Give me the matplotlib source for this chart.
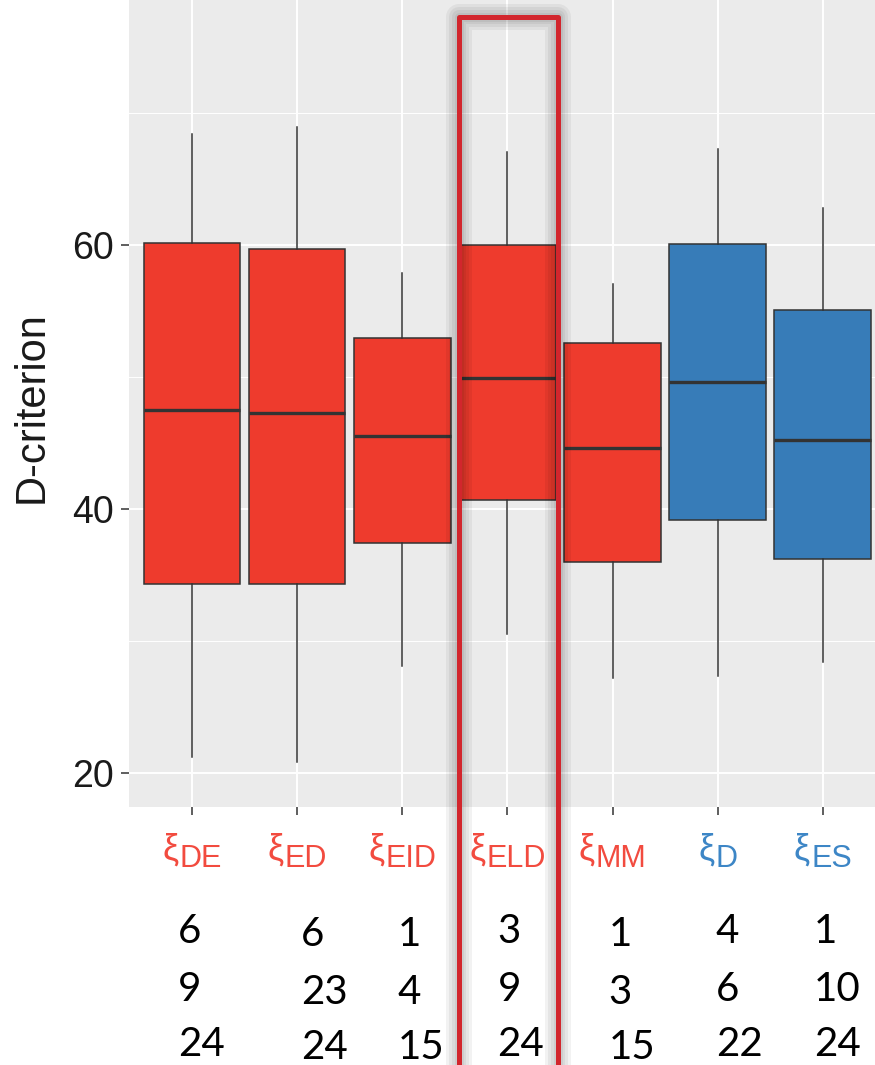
import matplotlib.pyplot as plt
from matplotlib.patches import Rectangle
from matplotlib.transforms import blended_transform_factory

plt.rcParams['font.family'] = ['Liberation Sans', 'DejaVu Sans']

# D-criterion summaries per design method
METHODS = ['DE', 'ED', 'EID', 'ELD', 'MM', 'D', 'ES']
GROUP = ['new', 'new', 'new', 'new', 'new', 'ref', 'ref']
WHIS_LO = [21.2, 20.8, 28.1, 30.5, 27.2, 27.3, 28.4]
Q1 = [34.3, 34.3, 37.4, 40.7, 36.0, 39.2, 36.2]
MEDIAN = [47.5, 47.3, 45.5, 49.9, 44.6, 49.6, 45.2]
Q3 = [60.2, 59.7, 53.0, 60.0, 52.6, 60.1, 55.1]
WHIS_HI = [68.4, 69.0, 57.9, 67.1, 57.1, 67.3, 62.8]
# numbers written under each method
COUNTS = [[6, 9, 24], [6, 23, 24], [1, 4, 15], [3, 9, 24],
          [1, 3, 15], [4, 6, 22], [1, 10, 24]]
HIGHLIGHT = 'ELD'

FILL = {'new': '#EE3B2D', 'ref': '#377CB8'}
LABEL_COLOR = {'new': '#F24B3F', 'ref': '#3D86C6'}
EDGE = '#333333'

W, H = 875, 1065
fig = plt.figure(figsize=(W / 100, H / 100), dpi=100)
ax = fig.add_axes([128.9 / W, 1 - 807 / H, 757 / W, 807 / H])
ax.set_facecolor('#EBEBEB')

positions = list(range(1, len(METHODS) + 1))
stats = [dict(label=m, whislo=lo, q1=a, med=md, q3=b, whishi=hi, fliers=[])
         for m, lo, a, md, b, hi in zip(METHODS, WHIS_LO, Q1, MEDIAN, Q3, WHIS_HI)]
bp = ax.bxp(stats, positions=positions, widths=0.92, patch_artist=True,
            showcaps=False,
            boxprops=dict(edgecolor=EDGE, linewidth=1.1),
            medianprops=dict(color=EDGE, linewidth=2.4, solid_capstyle='butt'),
            whiskerprops=dict(color=EDGE, linewidth=1.1))
for patch, grp in zip(bp['boxes'], GROUP):
    patch.set_facecolor(FILL[grp])

ax.set_xlim(0.4, 7.6)
ax.set_ylim(17.4, 78.6)
ax.set_yticks([20, 40, 60])
ax.set_yticks([30, 50, 70], minor=True)
ax.set_xticks(positions)
ax.set_xticklabels([])
ax.grid(which='major', color='white', linewidth=1.4)
ax.grid(which='minor', axis='y', color='white', linewidth=0.7)
ax.set_axisbelow(True)
for s in ax.spines.values():
    s.set_visible(False)
ax.tick_params(axis='both', length=6, width=1.1, color=EDGE)
ax.tick_params(axis='y', which='minor', length=0)
ax.tick_params(axis='y', labelsize=27, pad=5, labelcolor='#1a1a1a')
ax.tick_params(axis='x', pad=0)

fig.text(32 / W, 1 - 407 / H, 'D-criterion', rotation=90, ha='center',
         va='center', fontsize=30, color='#1a1a1a')

# xi labels with large subscripts
xi_texts = []
for i, (m, grp) in enumerate(zip(METHODS, GROUP)):
    c = LABEL_COLOR[grp]
    t1 = ax.annotate('ξ', xy=(positions[i], 0), xycoords=('data', 'axes fraction'),
                     xytext=(0, -52.5), textcoords='offset pixels',
                     ha='left', va='baseline', fontsize=26, color=c)
    t2 = ax.annotate(m, xy=(positions[i], 0), xycoords=('data', 'axes fraction'),
                     xytext=(0, -60), textcoords='offset pixels',
                     ha='left', va='baseline', fontsize=22, color=c)
    xi_texts.append((t1, t2))

renderer = fig.canvas.get_renderer()
for t1, t2 in xi_texts:
    w1 = t1.get_window_extent(renderer).width
    w2 = t2.get_window_extent(renderer).width
    total = w1 + 1 + w2
    t1.xyann = (-total / 2, -52.5)
    t2.xyann = (-total / 2 + w1 + 1, -60)

# counts under each label
nudge_x = [-14, 4, -5, -10, -4, -2, -9]
nudge_y = [0, 3, 3, 0, 3, 0, 0]
row_base = [943, 1001, 1056]
for i, col in enumerate(COUNTS):
    for r, val in enumerate(col):
        ax.annotate(str(val), xy=(positions[i], 0),
                    xycoords=('data', 'axes fraction'),
                    xytext=(nudge_x[i], -(row_base[r] + nudge_y[i] - 807)),
                    textcoords='offset pixels', ha='left', va='baseline',
                    fontsize=29, family='Lato', color='black',
                    annotation_clip=False)

# highlight frame around the chosen method
hx = positions[METHODS.index(HIGHLIGHT)]
trans = blended_transform_factory(ax.transData, fig.transFigure)
x0, wdt = hx - 0.457, 0.942
y0, y1 = -0.05, 1 - 16.5 / H
for lw_px in [26, 20, 14, 9]:
    fig.add_artist(Rectangle((x0, y0), wdt, y1 - y0, transform=trans,
                             fill=False, edgecolor='black', alpha=0.05,
                             linewidth=lw_px * 0.72, joinstyle='round',
                             clip_on=False))
fig.add_artist(Rectangle((x0, y0), wdt, y1 - y0, transform=trans, fill=False,
                         edgecolor='#D2262D', linewidth=3.6, joinstyle='round',
                         clip_on=False))

fig.savefig('out.png', dpi=100)
